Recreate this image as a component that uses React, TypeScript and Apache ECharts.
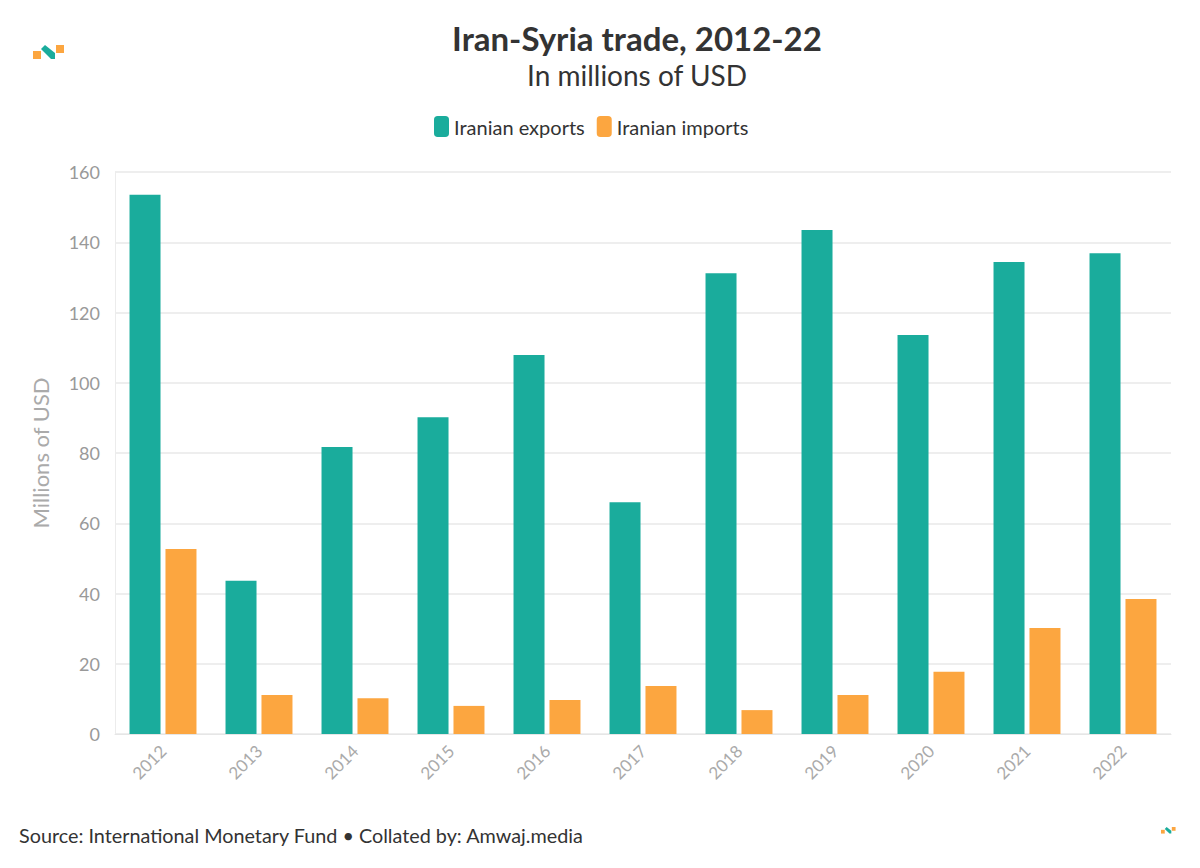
import React, { useEffect, useRef } from "react";
import * as echarts from "echarts";

const years = ["2012", "2013", "2014", "2015", "2016", "2017", "2018", "2019", "2020", "2021", "2022"];
const exportsData = [153.5, 43.6, 81.7, 90.2, 107.9, 66.0, 131.2, 143.5, 113.6, 134.4, 136.9];
const importsData = [52.7, 11.1, 10.2, 8.0, 9.7, 13.7, 6.8, 11.1, 17.7, 30.2, 38.4];
const yTicks = { min: 0, max: 160, interval: 20 };

const TEAL = "#1aac9c";
const ORANGE = "#fca640";
const FONT = "Lato, 'Noto Sans', sans-serif";

function logo(x: number, y: number, s: number) {
  return {
    type: "group",
    x,
    y,
    scaleX: s,
    scaleY: s,
    children: [
      { type: "rect", shape: { x: 0, y: 6, width: 8, height: 8 }, style: { fill: ORANGE } },
      {
        type: "polygon",
        shape: { points: [[8, 4], [12, 0], [22, 8], [22, 14], [18, 14]] },
        style: { fill: TEAL },
      },
      { type: "rect", shape: { x: 23, y: 0, width: 8, height: 8 }, style: { fill: ORANGE } },
    ],
  };
}

export default function App() {
  const ref = useRef<HTMLDivElement>(null);
  useEffect(() => {
    document.body.style.margin = "0";
    const chart = echarts.init(ref.current!, null, { renderer: "svg" });
    chart.setOption({
      animation: false,
      backgroundColor: "#ffffff",
      title: [
        {
          text: "Iran-Syria trade, 2012-22",
          left: 632,
          top: 16,
          textAlign: "center",
          textStyle: { fontFamily: FONT, fontSize: 33, fontWeight: "bold", color: "#333333" },
        },
        {
          text: "In millions of USD",
          left: 632,
          top: 56,
          textAlign: "center",
          textStyle: { fontFamily: FONT, fontSize: 28, fontWeight: "normal", color: "#333333" },
        },
        {
          text: "Source: International Monetary Fund • Collated by: Amwaj.media",
          left: 14,
          top: 820,
          textStyle: { fontFamily: FONT, fontSize: 19.8, fontWeight: "normal", color: "#333333" },
        },
      ],
      legend: {
        left: 429,
        top: 111,
        itemWidth: 15,
        itemHeight: 21,
        itemGap: 12,
        icon: "roundRect",
        textStyle: { fontFamily: FONT, fontSize: 20, color: "#333333" },
      },
      grid: { left: 115, right: 29, top: 172, bottom: 134 },
      xAxis: {
        type: "category",
        data: years,
        axisLine: { lineStyle: { color: "#e6e6e6" } },
        axisTick: { alignWithLabel: true, length: 8, lineStyle: { color: "#e6e6e6" } },
        axisLabel: {
          rotate: 45,
          margin: 14,
          fontFamily: FONT,
          fontSize: 17,
          color: "#aaaaaa",
        },
      },
      yAxis: {
        type: "value",
        min: yTicks.min,
        max: yTicks.max,
        interval: yTicks.interval,
        name: "Millions of USD",
        nameLocation: "middle",
        nameGap: 64,
        nameTextStyle: { fontFamily: FONT, fontSize: 22, color: "#aaaaaa" },
        axisLine: { show: true, lineStyle: { color: "#ececec" } },
        axisTick: { show: false },
        splitLine: { lineStyle: { color: "#e8e8e8", width: 1.5 } },
        axisLabel: { fontFamily: FONT, fontSize: 18, color: "#999999", margin: 15 },
      },
      series: [
        {
          name: "Iranian exports",
          type: "bar",
          data: exportsData,
          barWidth: 31,
          barGap: "16%",
          itemStyle: { color: TEAL },
        },
        {
          name: "Iranian imports",
          type: "bar",
          data: importsData,
          barWidth: 31,
          barGap: "16%",
          itemStyle: { color: ORANGE },
        },
      ],
      graphic: [logo(33, 45, 1), logo(1161, 827, 0.47)],
    });
    return () => chart.dispose();
  }, []);
  return <div ref={ref} style={{ width: 1200, height: 868 }} />;
}
